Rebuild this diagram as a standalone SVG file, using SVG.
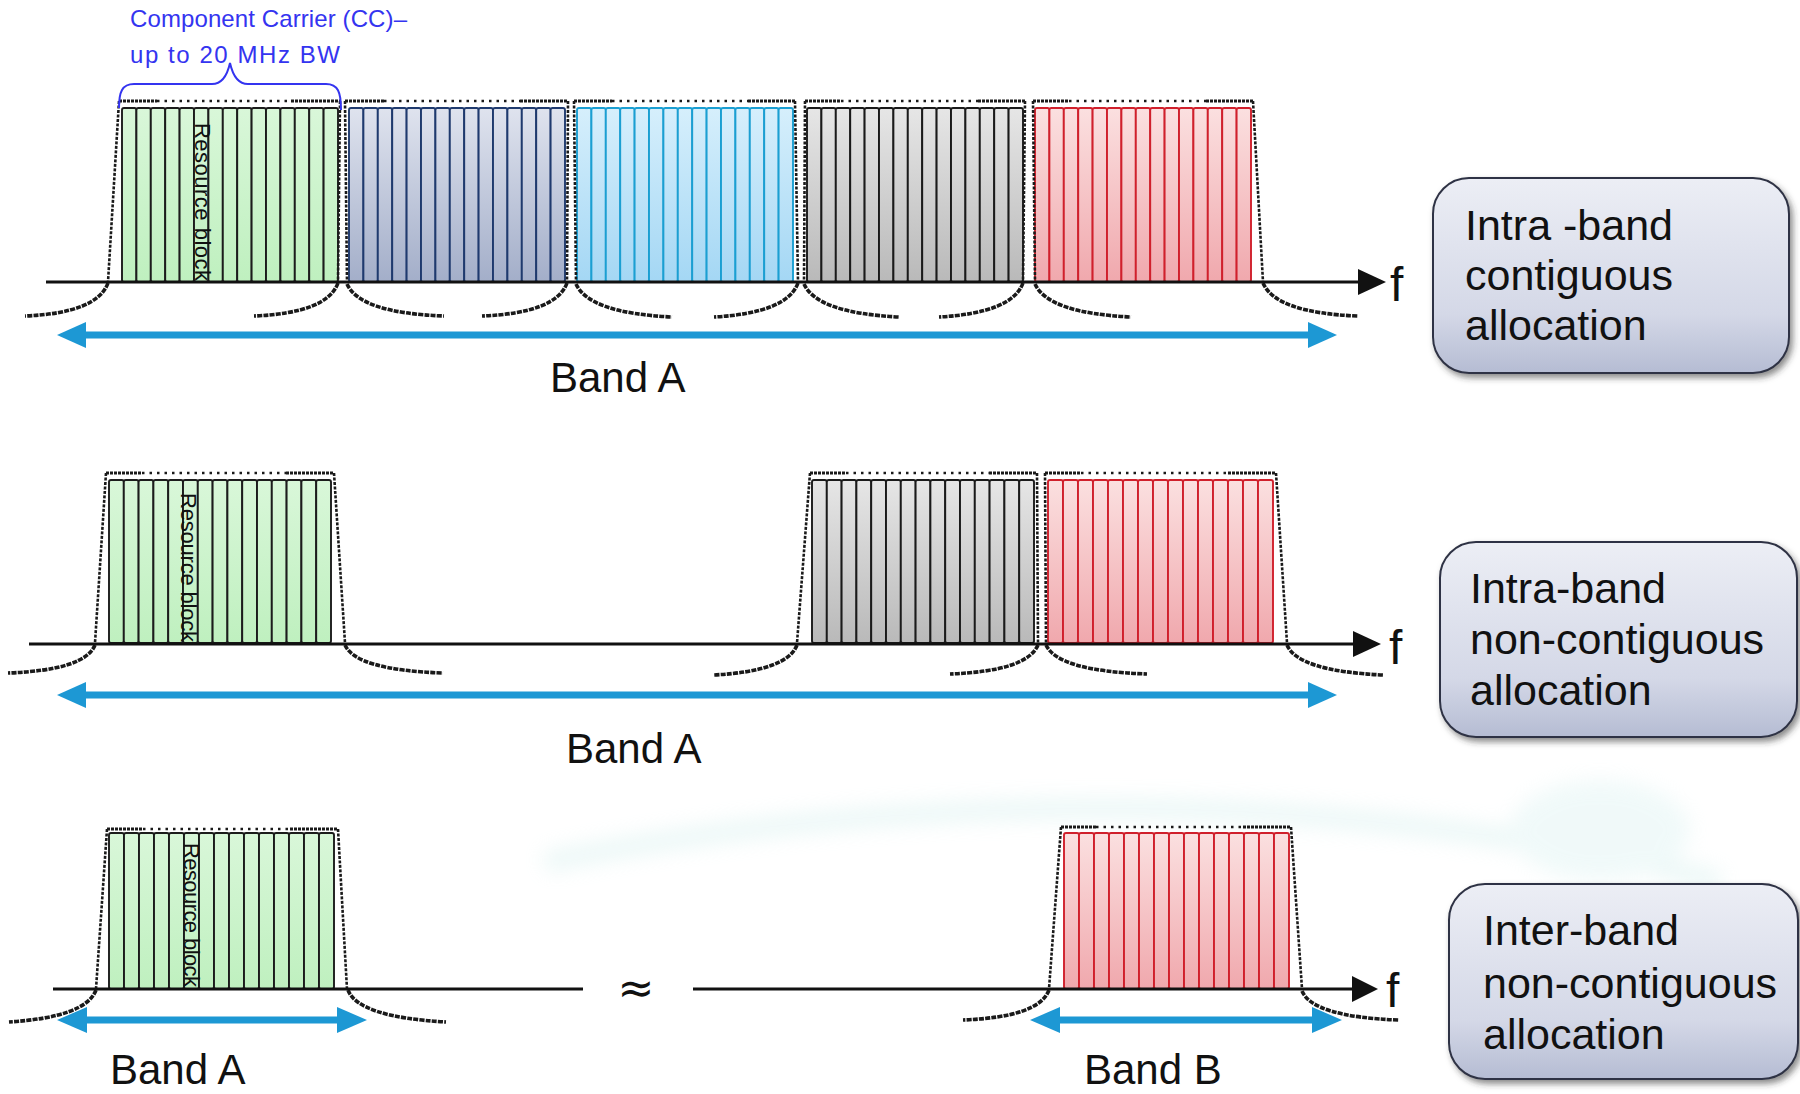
<svg xmlns="http://www.w3.org/2000/svg" width="1800" height="1094" viewBox="0 0 1800 1094">
<defs>
<linearGradient id="gGreen" x1="0" y1="0" x2="0" y2="1"><stop offset="0" stop-color="#d9f7d9"/><stop offset="1" stop-color="#bff0bf"/></linearGradient>
<linearGradient id="gSlate" x1="0" y1="0" x2="0" y2="1"><stop offset="0" stop-color="#dfe3ee"/><stop offset="1" stop-color="#a3aec9"/></linearGradient>
<linearGradient id="gSky" x1="0" y1="0" x2="0" y2="1"><stop offset="0" stop-color="#d6effc"/><stop offset="1" stop-color="#a4d7f4"/></linearGradient>
<linearGradient id="gGray" x1="0" y1="0" x2="0" y2="1"><stop offset="0" stop-color="#e6e6e6"/><stop offset="1" stop-color="#b9b9b9"/></linearGradient>
<linearGradient id="gRed" x1="0" y1="0" x2="0" y2="1"><stop offset="0" stop-color="#fbe0e0"/><stop offset="1" stop-color="#f0a8ad"/></linearGradient>
<linearGradient id="gBox" x1="0" y1="0" x2="0" y2="1"><stop offset="0" stop-color="#eceef5"/><stop offset="0.7" stop-color="#d4d8e7"/><stop offset="1" stop-color="#b5bcd3"/></linearGradient>
<filter id="shadow" x="-10%" y="-10%" width="125%" height="130%"><feDropShadow dx="3" dy="4" stdDeviation="3" flood-color="#333" flood-opacity="0.55"/></filter>
<filter id="soft" x="-20%" y="-50%" width="140%" height="200%"><feGaussianBlur stdDeviation="10"/></filter>
<style>
.green rect{fill:url(#gGreen);stroke:#1c1c1c;stroke-width:1.9}
.slate rect{fill:url(#gSlate);stroke:#1f3a6e;stroke-width:1.9}
.sky rect{fill:url(#gSky);stroke:#1b9fd2;stroke-width:1.9}
.gray rect{fill:url(#gGray);stroke:#1a1a1a;stroke-width:1.9}
.red rect{fill:url(#gRed);stroke:#d0202c;stroke-width:1.9}
.side{fill:none;stroke:#1a1a1a;stroke-width:2.6;stroke-dasharray:3 1.5}
.top{fill:none;stroke:#1a1a1a;stroke-width:2.6;stroke-dasharray:2.5 5}
.cap{fill:none;stroke:#1a1a1a;stroke-width:3.2;stroke-dasharray:3 1}
.skirt{fill:none;stroke:#1a1a1a;stroke-width:3.6;stroke-dasharray:5 1.2}
.axis{stroke:#111;stroke-width:3}
.blue{stroke:#1d98d4;stroke-width:7}
.bhead{fill:#1d98d4}
.rb{font-family:"Liberation Sans",Arial,sans-serif;font-size:22px;fill:#111}
.lbl{font-family:"Liberation Sans",Arial,sans-serif;font-size:42px;fill:#111}
.f{font-family:"Liberation Sans",Arial,sans-serif;font-size:48px;fill:#111}
.box{fill:url(#gBox);stroke:#2f3344;stroke-width:2}
.bt{font-family:"Liberation Sans",Arial,sans-serif;font-size:43px;fill:#111}
.cc{font-family:"Liberation Sans",Arial,sans-serif;font-size:24px;fill:#3434f0}
</style>
</defs>
<rect width="1800" height="1094" fill="#ffffff"/>
<!-- faint background swoosh -->
<g opacity="0.3" filter="url(#soft)">
<path d="M545,862 Q 880,795 1250,812 Q 1520,828 1720,882" fill="none" stroke="#bfe7e4" stroke-width="20"/>
<ellipse cx="1600" cy="830" rx="90" ry="50" fill="#cfeeed"/>
</g>

<!-- Row 1 -->
<g id="cc1-green" class="green">
<rect x="122" y="108" width="14.4" height="174" rx="2"/><rect x="136.4" y="108" width="14.4" height="174" rx="2"/><rect x="150.8" y="108" width="14.4" height="174" rx="2"/><rect x="165.2" y="108" width="14.4" height="174" rx="2"/><rect x="179.6" y="108" width="14.4" height="174" rx="2"/><rect x="194" y="108" width="14.4" height="174" rx="2"/><rect x="208.4" y="108" width="14.4" height="174" rx="2"/><rect x="222.8" y="108" width="14.4" height="174" rx="2"/><rect x="237.2" y="108" width="14.4" height="174" rx="2"/><rect x="251.6" y="108" width="14.4" height="174" rx="2"/><rect x="266" y="108" width="14.4" height="174" rx="2"/><rect x="280.4" y="108" width="14.4" height="174" rx="2"/><rect x="294.8" y="108" width="14.4" height="174" rx="2"/><rect x="309.2" y="108" width="14.4" height="174" rx="2"/><rect x="323.6" y="108" width="14.4" height="174" rx="2"/>
<text class="rb" x="195" y="123" transform="rotate(90 195 123)" textLength="158">Resource  block</text>
</g>
<g id="cc2-slate" class="slate">
<rect x="349" y="108" width="14.4" height="174" rx="2"/><rect x="363.4" y="108" width="14.4" height="174" rx="2"/><rect x="377.8" y="108" width="14.4" height="174" rx="2"/><rect x="392.2" y="108" width="14.4" height="174" rx="2"/><rect x="406.6" y="108" width="14.4" height="174" rx="2"/><rect x="421" y="108" width="14.4" height="174" rx="2"/><rect x="435.4" y="108" width="14.4" height="174" rx="2"/><rect x="449.8" y="108" width="14.4" height="174" rx="2"/><rect x="464.2" y="108" width="14.4" height="174" rx="2"/><rect x="478.6" y="108" width="14.4" height="174" rx="2"/><rect x="493" y="108" width="14.4" height="174" rx="2"/><rect x="507.4" y="108" width="14.4" height="174" rx="2"/><rect x="521.8" y="108" width="14.4" height="174" rx="2"/><rect x="536.2" y="108" width="14.4" height="174" rx="2"/><rect x="550.6" y="108" width="14.4" height="174" rx="2"/>
</g>
<g id="cc3-sky" class="sky">
<rect x="577" y="108" width="14.4" height="174" rx="2"/><rect x="591.4" y="108" width="14.4" height="174" rx="2"/><rect x="605.8" y="108" width="14.4" height="174" rx="2"/><rect x="620.2" y="108" width="14.4" height="174" rx="2"/><rect x="634.6" y="108" width="14.4" height="174" rx="2"/><rect x="649" y="108" width="14.4" height="174" rx="2"/><rect x="663.4" y="108" width="14.4" height="174" rx="2"/><rect x="677.8" y="108" width="14.4" height="174" rx="2"/><rect x="692.2" y="108" width="14.4" height="174" rx="2"/><rect x="706.6" y="108" width="14.4" height="174" rx="2"/><rect x="721" y="108" width="14.4" height="174" rx="2"/><rect x="735.4" y="108" width="14.4" height="174" rx="2"/><rect x="749.8" y="108" width="14.4" height="174" rx="2"/><rect x="764.2" y="108" width="14.4" height="174" rx="2"/><rect x="778.6" y="108" width="14.4" height="174" rx="2"/>
</g>
<g id="cc4-gray" class="gray">
<rect x="807" y="108" width="14.4" height="174" rx="2"/><rect x="821.4" y="108" width="14.4" height="174" rx="2"/><rect x="835.8" y="108" width="14.4" height="174" rx="2"/><rect x="850.2" y="108" width="14.4" height="174" rx="2"/><rect x="864.6" y="108" width="14.4" height="174" rx="2"/><rect x="879" y="108" width="14.4" height="174" rx="2"/><rect x="893.4" y="108" width="14.4" height="174" rx="2"/><rect x="907.8" y="108" width="14.4" height="174" rx="2"/><rect x="922.2" y="108" width="14.4" height="174" rx="2"/><rect x="936.6" y="108" width="14.4" height="174" rx="2"/><rect x="951" y="108" width="14.4" height="174" rx="2"/><rect x="965.4" y="108" width="14.4" height="174" rx="2"/><rect x="979.8" y="108" width="14.4" height="174" rx="2"/><rect x="994.2" y="108" width="14.4" height="174" rx="2"/><rect x="1008.6" y="108" width="14.4" height="174" rx="2"/>
</g>
<g id="cc5-red" class="red">
<rect x="1035" y="108" width="14.4" height="174" rx="2"/><rect x="1049.4" y="108" width="14.4" height="174" rx="2"/><rect x="1063.8" y="108" width="14.4" height="174" rx="2"/><rect x="1078.2" y="108" width="14.4" height="174" rx="2"/><rect x="1092.6" y="108" width="14.4" height="174" rx="2"/><rect x="1107" y="108" width="14.4" height="174" rx="2"/><rect x="1121.4" y="108" width="14.4" height="174" rx="2"/><rect x="1135.8" y="108" width="14.4" height="174" rx="2"/><rect x="1150.2" y="108" width="14.4" height="174" rx="2"/><rect x="1164.6" y="108" width="14.4" height="174" rx="2"/><rect x="1179" y="108" width="14.4" height="174" rx="2"/><rect x="1193.4" y="108" width="14.4" height="174" rx="2"/><rect x="1207.8" y="108" width="14.4" height="174" rx="2"/><rect x="1222.2" y="108" width="14.4" height="174" rx="2"/><rect x="1236.6" y="108" width="14.4" height="174" rx="2"/>
</g>

<!-- Row 2 -->
<g id="r2-green" class="green">
<rect x="109" y="480" width="14.8" height="163" rx="2"/><rect x="123.8" y="480" width="14.8" height="163" rx="2"/><rect x="138.6" y="480" width="14.8" height="163" rx="2"/><rect x="153.4" y="480" width="14.8" height="163" rx="2"/><rect x="168.2" y="480" width="14.8" height="163" rx="2"/><rect x="183" y="480" width="14.8" height="163" rx="2"/><rect x="197.8" y="480" width="14.8" height="163" rx="2"/><rect x="212.6" y="480" width="14.8" height="163" rx="2"/><rect x="227.4" y="480" width="14.8" height="163" rx="2"/><rect x="242.2" y="480" width="14.8" height="163" rx="2"/><rect x="257" y="480" width="14.8" height="163" rx="2"/><rect x="271.8" y="480" width="14.8" height="163" rx="2"/><rect x="286.6" y="480" width="14.8" height="163" rx="2"/><rect x="301.4" y="480" width="14.8" height="163" rx="2"/><rect x="316.2" y="480" width="14.8" height="163" rx="2"/>
<text class="rb" x="181" y="493" transform="rotate(90 181 493)" textLength="149">Resource block</text>
</g>
<g id="r2-gray" class="gray">
<rect x="812" y="480" width="14.8" height="163" rx="2"/><rect x="826.8" y="480" width="14.8" height="163" rx="2"/><rect x="841.6" y="480" width="14.8" height="163" rx="2"/><rect x="856.4" y="480" width="14.8" height="163" rx="2"/><rect x="871.2" y="480" width="14.8" height="163" rx="2"/><rect x="886" y="480" width="14.8" height="163" rx="2"/><rect x="900.8" y="480" width="14.8" height="163" rx="2"/><rect x="915.6" y="480" width="14.8" height="163" rx="2"/><rect x="930.4" y="480" width="14.8" height="163" rx="2"/><rect x="945.2" y="480" width="14.8" height="163" rx="2"/><rect x="960" y="480" width="14.8" height="163" rx="2"/><rect x="974.8" y="480" width="14.8" height="163" rx="2"/><rect x="989.6" y="480" width="14.8" height="163" rx="2"/><rect x="1004.4" y="480" width="14.8" height="163" rx="2"/><rect x="1019.2" y="480" width="14.8" height="163" rx="2"/>
</g>
<g id="r2-red" class="red">
<rect x="1048" y="480" width="15" height="163" rx="2"/><rect x="1063" y="480" width="15" height="163" rx="2"/><rect x="1078" y="480" width="15" height="163" rx="2"/><rect x="1093" y="480" width="15" height="163" rx="2"/><rect x="1108" y="480" width="15" height="163" rx="2"/><rect x="1123" y="480" width="15" height="163" rx="2"/><rect x="1138" y="480" width="15" height="163" rx="2"/><rect x="1153" y="480" width="15" height="163" rx="2"/><rect x="1168" y="480" width="15" height="163" rx="2"/><rect x="1183" y="480" width="15" height="163" rx="2"/><rect x="1198" y="480" width="15" height="163" rx="2"/><rect x="1213" y="480" width="15" height="163" rx="2"/><rect x="1228" y="480" width="15" height="163" rx="2"/><rect x="1243" y="480" width="15" height="163" rx="2"/><rect x="1258" y="480" width="15" height="163" rx="2"/>
</g>

<!-- Row 3 -->
<g id="r3-green" class="green">
<rect x="109" y="833" width="15" height="156" rx="2"/><rect x="124" y="833" width="15" height="156" rx="2"/><rect x="139" y="833" width="15" height="156" rx="2"/><rect x="154" y="833" width="15" height="156" rx="2"/><rect x="169" y="833" width="15" height="156" rx="2"/><rect x="184" y="833" width="15" height="156" rx="2"/><rect x="199" y="833" width="15" height="156" rx="2"/><rect x="214" y="833" width="15" height="156" rx="2"/><rect x="229" y="833" width="15" height="156" rx="2"/><rect x="244" y="833" width="15" height="156" rx="2"/><rect x="259" y="833" width="15" height="156" rx="2"/><rect x="274" y="833" width="15" height="156" rx="2"/><rect x="289" y="833" width="15" height="156" rx="2"/><rect x="304" y="833" width="15" height="156" rx="2"/><rect x="319" y="833" width="15" height="156" rx="2"/>
<text class="rb" x="184" y="843" transform="rotate(90 184 843)" textLength="144">Resource block</text>
</g>
<g id="r3-red" class="red">
<rect x="1064" y="833" width="15" height="156" rx="2"/><rect x="1079" y="833" width="15" height="156" rx="2"/><rect x="1094" y="833" width="15" height="156" rx="2"/><rect x="1109" y="833" width="15" height="156" rx="2"/><rect x="1124" y="833" width="15" height="156" rx="2"/><rect x="1139" y="833" width="15" height="156" rx="2"/><rect x="1154" y="833" width="15" height="156" rx="2"/><rect x="1169" y="833" width="15" height="156" rx="2"/><rect x="1184" y="833" width="15" height="156" rx="2"/><rect x="1199" y="833" width="15" height="156" rx="2"/><rect x="1214" y="833" width="15" height="156" rx="2"/><rect x="1229" y="833" width="15" height="156" rx="2"/><rect x="1244" y="833" width="15" height="156" rx="2"/><rect x="1259" y="833" width="15" height="156" rx="2"/><rect x="1274" y="833" width="15" height="156" rx="2"/>
</g>

<!-- connectors: outlines, skirts, axes, band arrows -->
<g id="connectors">
<path class="side" d="M119,101 L108,282 M340,101 L338,282 M345,101 L347,282 M568,101 L567,282 M574,101 L576,282 M795,101 L798,282 M805,101 L804,282 M1025,101 L1023,282 M1033,101 L1035,282 M1253,101 L1263,282"/>
<path class="top" d="M157,101 L291,101 M384,101 L520,101 M612,101 L748,101 M841,101 L978,101 M1069,101 L1206,101"/>
<path class="cap" d="M119,101 L157,101 M291,101 L340,101 M345,101 L384,101 M520,101 L568,101 M574,101 L612,101 M748,101 L795,101 M805,101 L841,101 M978,101 L1025,101 M1033,101 L1069,101 M1206,101 L1253,101"/>
<path class="skirt" d="M108,283 Q97,313 25,316 M338,283 Q327,313 254,316 M347,284 Q360,313 444,316 M567,283 Q556,313 482,316 M576,284 Q589,313 672,317 M798,283 Q787,313 714,317 M804,284 Q817,313 899,317 M1023,283 Q1012,313 939,317 M1035,284 Q1048,313 1131,317 M1263,283 Q1276,313 1358,316"/>
<line class="axis" x1="46" y1="282" x2="1362" y2="282"/>
<polygon points="1358,269 1386,282 1358,295" fill="#111"/>
<line class="blue" x1="80" y1="335" x2="1314" y2="335"/>
<polygon class="bhead" points="57,335 86,322 86,348"/>
<polygon class="bhead" points="1337,335 1308,322 1308,348"/>

<path class="side" d="M106,473 L95,643 M334,473 L345,643 M810,473 L797,643 M1037,473 L1038,643 M1045,473 L1046,643 M1276,473 L1287,643"/>
<path class="top" d="M142,473 L286,473 M846,473 L989,473 M1081,473 L1228,473"/>
<path class="cap" d="M106,473 L142,473 M286,473 L334,473 M810,473 L846,473 M989,473 L1037,473 M1045,473 L1081,473 M1228,473 L1276,473"/>
<path class="skirt" d="M95,645 Q85,670 8,673 M345,645 Q356,670 443,673 M797,645 Q787,671 714,675 M1038,645 Q1027,671 950,674 M1046,645 Q1058,671 1147,674 M1287,645 Q1298,671 1383,675"/>
<line class="axis" x1="29" y1="644" x2="1356" y2="644"/>
<polygon points="1353,631 1381,644 1353,657" fill="#111"/>
<line class="blue" x1="80" y1="695" x2="1314" y2="695"/>
<polygon class="bhead" points="57,695 86,682 86,708"/>
<polygon class="bhead" points="1337,695 1308,682 1308,708"/>

<path class="side" d="M107,829 L96,989 M338,829 L347,989 M1061,827 L1049,989 M1291,827 L1302,989"/>
<path class="top" d="M143,829 L290,829 M1096,827 L1243,827"/>
<path class="cap" d="M107,829 L143,829 M290,829 L338,829 M1061,827 L1096,827 M1243,827 L1291,827"/>
<path class="skirt" d="M96,990 Q86,1017 9,1022 M348,990 Q358,1017 446,1022 M1049,990 Q1039,1017 963,1020 M1302,991 Q1313,1017 1399,1020"/>
<line class="axis" x1="53" y1="989" x2="583" y2="989"/>
<line class="axis" x1="693" y1="989" x2="1356" y2="989"/>
<polygon points="1352,976 1378,989 1352,1002" fill="#111"/>
<line class="blue" x1="80" y1="1020" x2="344" y2="1020"/>
<polygon class="bhead" points="57,1020 87,1007 87,1033"/>
<polygon class="bhead" points="367,1020 337,1007 337,1033"/>
<line class="blue" x1="1053" y1="1020" x2="1319" y2="1020"/>
<polygon class="bhead" points="1030,1020 1060,1007 1060,1033"/>
<polygon class="bhead" points="1342,1020 1312,1007 1312,1033"/>

<path d="M119,108 C119,92 122,84 134,84 L212,84 C224,84 228,72 230,63 C232,72 236,84 248,84 L326,84 C338,84 341,92 341,110" fill="none" stroke="#3434f0" stroke-width="2"/>
</g>

<g id="labels">
<text class="cc" x="130" y="27" textLength="277">Component Carrier (CC)–</text>
<text class="cc" x="130" y="63" textLength="210">up to 20 MHz BW</text>
<text class="f" x="1390" y="301">f</text>
<text class="f" x="1389" y="664">f</text>
<text class="f" x="1386" y="1007">f</text>
<text class="lbl" x="550" y="392">Band A</text>
<text class="lbl" x="566" y="763">Band A</text>
<text class="lbl" x="110" y="1084">Band A</text>
<text class="lbl" x="1084" y="1084">Band B</text>
<text x="636" y="1003" text-anchor="middle" font-family="'DejaVu Sans',sans-serif" font-size="44" fill="#111">≈</text>
</g>

<g id="box-intra-contiguous">
<rect class="box" x="1433" y="178" width="356" height="195" rx="36" filter="url(#shadow)"/>
<text class="bt" x="1465" y="240">Intra -band</text>
<text class="bt" x="1465" y="290">contiguous</text>
<text class="bt" x="1465" y="340">allocation</text>
</g>
<g id="box-intra-noncontiguous">
<rect class="box" x="1440" y="542" width="357" height="195" rx="36" filter="url(#shadow)"/>
<text class="bt" x="1470" y="603">Intra-band</text>
<text class="bt" x="1470" y="654">non-contiguous</text>
<text class="bt" x="1470" y="705">allocation</text>
</g>
<g id="box-inter-noncontiguous">
<rect class="box" x="1449" y="884" width="349" height="195" rx="36" filter="url(#shadow)"/>
<text class="bt" x="1483" y="945">Inter-band</text>
<text class="bt" x="1483" y="998">non-contiguous</text>
<text class="bt" x="1483" y="1049">allocation</text>
</g>
</svg>
